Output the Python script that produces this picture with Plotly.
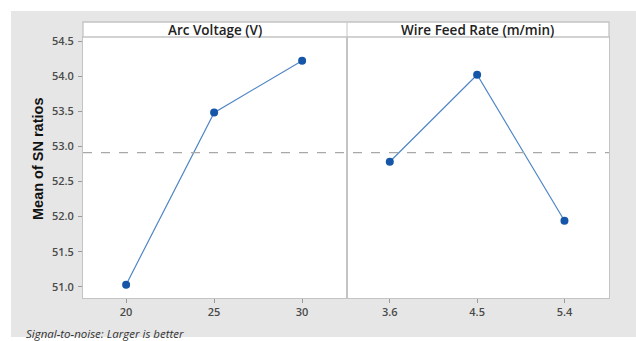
import plotly.graph_objects as go

voltage_levels = ["20", "25", "30"]
voltage_sn = [51.03, 53.48, 54.22]
feed_levels = ["3.6", "4.5", "5.4"]
feed_sn = [52.78, 54.02, 51.94]
panel_titles = ["Arc Voltage (V)", "Wire Feed Rate (m/min)"]
y_ticks = [51.0, 51.5, 52.0, 52.5, 53.0, 53.5, 54.0, 54.5]
overall_mean = (sum(voltage_sn) + sum(feed_sn)) / 6

W, H = 636, 341
L, R, T, B = 83, 27, 22, 43
pw = W - L - R   # 526
ph = H - T - B   # 276
split = 264 / pw
strip_bottom = (ph - 15) / ph

def px_x(x):
    return (x - L) / pw

def px_y(y):
    return (ph - (y - T)) / ph

line_col = "#4f86c6"
mark_col = "#1556a8"
tick_font = dict(family="Open Sans, Noto Sans, sans-serif", size=11, color="#4a4a4a", weight=600)

fig = go.Figure()
fig.add_trace(go.Scatter(x=voltage_levels, y=voltage_sn, mode="lines+markers",
                         line=dict(color=line_col, width=1.2),
                         marker=dict(color=mark_col, size=8),
                         xaxis="x", yaxis="y", showlegend=False))
fig.add_trace(go.Scatter(x=feed_levels, y=feed_sn, mode="lines+markers",
                         line=dict(color=line_col, width=1.2),
                         marker=dict(color=mark_col, size=8),
                         xaxis="x2", yaxis="y2", showlegend=False))

ax_common = dict(showline=True, mirror=True, linecolor="#c4c4c4", linewidth=1,
                 ticks="outside", ticklen=4, tickcolor="#9a9a9a",
                 showgrid=False, zeroline=False, tickfont=tick_font,
                 type="category", range=[-0.49, 2.51], fixedrange=True)
yrange = [50.84, 54.557]
fig.update_layout(
    width=W, height=H,
    margin=dict(l=L, r=R, t=T, b=B),
    paper_bgcolor="rgba(230,230,230,0)", plot_bgcolor="white",
    xaxis=dict(domain=[0, split], anchor="y", **ax_common),
    xaxis2=dict(domain=[split, 1], anchor="y2", **ax_common),
    yaxis=dict(domain=[0, strip_bottom], range=yrange, tickvals=y_ticks,
               ticktext=[f"{v:.1f}" for v in y_ticks],
               showline=True, mirror=True, linecolor="#c4c4c4",
               ticks="outside", ticklen=4, tickcolor="#9a9a9a",
               showgrid=False, zeroline=False, tickfont=tick_font, ticklabelstandoff=2,
               fixedrange=True),
    yaxis2=dict(domain=[0, strip_bottom], range=yrange, anchor="x2",
                showline=True, mirror=True, linecolor="#c4c4c4",
                showticklabels=False, ticks="", showgrid=False, zeroline=False,
                fixedrange=True),
)

shapes = [
    # strip
    dict(type="rect", xref="paper", yref="paper", x0=0, x1=1, y0=strip_bottom, y1=1,
         fillcolor="white", line=dict(color="#c4c4c4", width=1.3)),
    dict(type="line", xref="paper", yref="paper", x0=split, x1=split, y0=0, y1=1,
         line=dict(color="#c4c4c4", width=1)),
    # overall mean reference line
    dict(type="line", xref="paper", yref="y", x0=0, x1=1, y0=overall_mean, y1=overall_mean,
         line=dict(color="#a8a8a8", width=1.2, dash="dash")),
]
fig.update_layout(shapes=shapes)

strip_y = (strip_bottom + 1) / 2
strip_font = dict(family="Open Sans, sans-serif", size=13.5, color="#222", weight=600)
fig.add_annotation(x=split / 2, y=strip_y, xref="paper", yref="paper", text=panel_titles[0],
                   xanchor="center", yanchor="middle", showarrow=False, font=strip_font)
fig.add_annotation(x=(split + 1) / 2, y=strip_y, xref="paper", yref="paper", text=panel_titles[1],
                   xanchor="center", yanchor="middle", showarrow=False, font=strip_font)
fig.add_annotation(x=px_x(38), y=px_y(159), xref="paper", yref="paper",
                   xanchor="center", yanchor="middle",
                   text="Mean of SN ratios", textangle=-90, showarrow=False,
                   font=dict(family="Liberation Sans Narrow, Liberation Sans, sans-serif", size=14.5, color="#111", weight=600))
fig.add_annotation(x=px_x(24), y=px_y(333), xref="paper", yref="paper",
                   xanchor="left", yanchor="middle",
                   text="<i>Signal-to-noise: Larger is better</i>", showarrow=False,
                   font=dict(family="Open Sans, sans-serif", size=11.5, color="#333"))

frame_js = """
document.body.style.margin='0';
document.body.style.padding='0';
document.body.style.background='white';
var gd = document.querySelector('.plotly-graph-div');
if (gd) {
  gd.style.background = '#e6e6e6';
  gd.style.boxShadow = 'inset 11px 11px 0 0 #ffffff, inset 0 -4px 0 0 #ffffff';
}
"""
fig.write_html("out.html", config={"displayModeBar": False}, post_script=frame_js)
